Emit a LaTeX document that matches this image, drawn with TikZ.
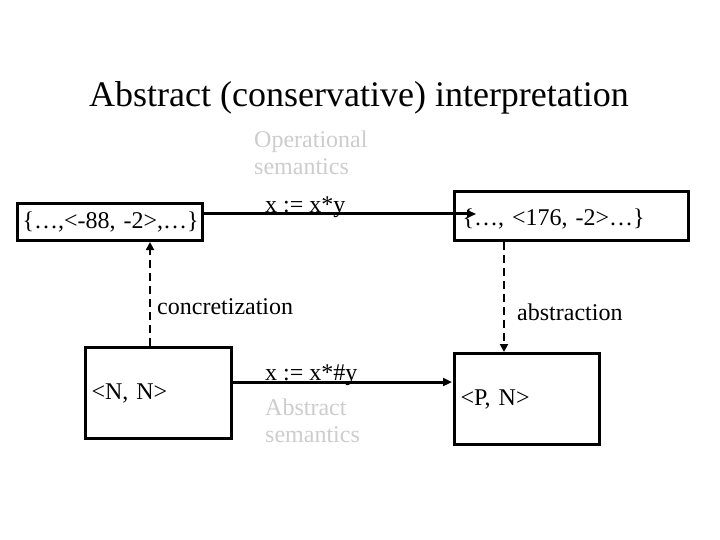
\documentclass[tikz,border=0pt]{standalone}
\usepackage{fontspec}
\setmainfont{Liberation Serif}
\usetikzlibrary{arrows.meta}
\definecolor{lightgraytext}{RGB}{205,205,205}
\tikzset{
  box/.style={draw, line width=3pt, inner xsep=6pt, inner ysep=0pt, align=left, anchor=north west},
  txt/.style={font=\fontsize{24}{28}\selectfont, inner sep=0pt},
  faint/.style={txt, text=lightgraytext, align=left, font=\fontsize{24}{27}\selectfont},
  arr/.style={line width=3pt, -{Triangle[length=9pt,width=8pt]}},
  darr/.style={line width=2.5pt, dash pattern=on 8pt off 5pt, -{Triangle[length=8pt,width=8pt]}}
}
\begin{document}
\begin{tikzpicture}[x=1pt,y=-1pt]
\useasboundingbox[fill=white] (0,0) rectangle (720,540);
\node[txt, font=\fontsize{36}{40}\selectfont, anchor=base] (title) at (359,107) {Abstract (conservative) interpretation};
\node[box, txt, inner xsep=5pt, text width=175pt, minimum height=37pt] (b1) at (16,202) {\mbox{\{…,<-88, -2>,…\}}};
\node[box, txt, inner xsep=8pt, text width=218pt, minimum height=49pt] (b2) at (453,190) {\raisebox{-9.5pt}[0pt][0pt]{\{…, <176, -2>…\}}};
\node[box, txt, inner xsep=6pt, text width=134pt, minimum height=91pt] (b3) at (84,346) {<N, N>};
\node[box, txt, inner xsep=6pt, text width=133pt, minimum height=91pt] (b4) at (453,352) {<P, N>};
\node[faint, anchor=north west] (opsem) at (254,131) {Operational\\semantics};
\node[faint, anchor=north west] (abssem) at (265,399) {Abstract\\semantics};
\node[txt, anchor=base west] (lop) at (265,212) {x := x*y};
\node[txt, anchor=base west] (labs) at (265,380) {x := x*\#y};
\node[txt, anchor=base west] (lconc) at (157,314) {concretization};
\node[txt, anchor=base west] (labst) at (517,320) {abstraction};
\coordinate (tip1) at (476,214);
\coordinate (tip2) at (452,382);
\coordinate (cx) at (150,0);
\coordinate (ax) at (504,0);
\draw[arr] (b1.east |- tip1) -- (tip1);
\draw[arr] (b3.east |- tip2) -- (tip2);
\draw[darr] (cx |- b3.north) -- (cx |- b1.south);
\draw[darr] (ax |- b2.south) -- (ax |- b4.north);
\end{tikzpicture}
\end{document}
